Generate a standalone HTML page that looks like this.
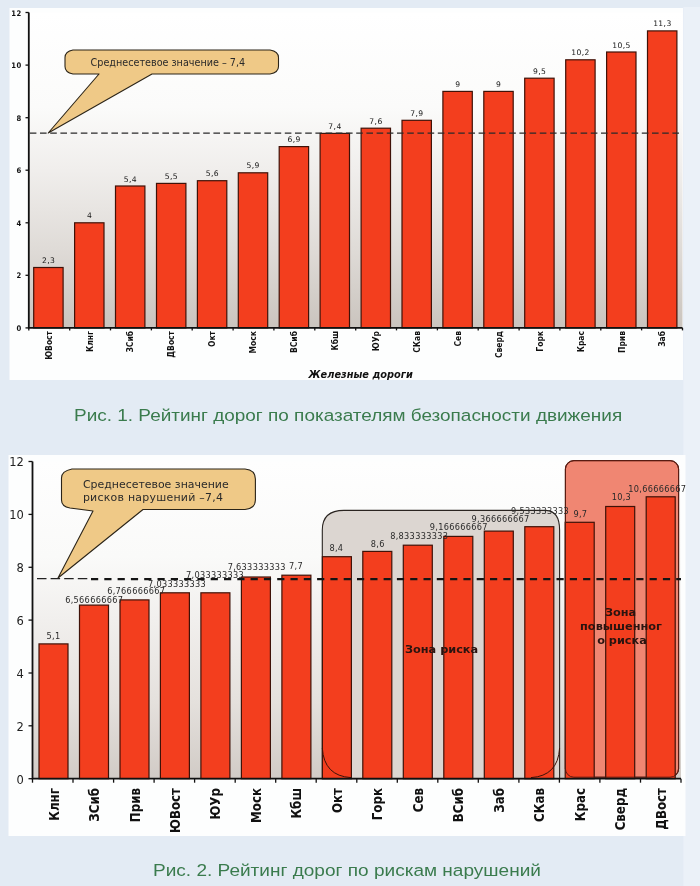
<!DOCTYPE html>
<html lang="ru"><head><meta charset="utf-8"><title>Рейтинг дорог</title>
<style>
html,body{margin:0;padding:0;}
body{width:700px;height:886px;overflow:hidden;background:#e3ebf4;position:relative;font-family:'Liberation Sans', sans-serif;}
svg{position:absolute;left:0;top:0;display:block;}
.cap{position:absolute;white-space:nowrap;color:#3a7b4d;font-family:'Liberation Sans', sans-serif;line-height:1;}
</style></head><body>
<svg width="700" height="886" viewBox="0 0 700 886">
<defs>
<linearGradient id="g1" x1="0" y1="0" x2="0" y2="1"><stop offset="0" stop-color="#ffffff"/><stop offset="0.3" stop-color="#fbfbfa"/><stop offset="0.5" stop-color="#f0eeec"/><stop offset="0.75" stop-color="#dfdbd7"/><stop offset="1" stop-color="#cac4be"/></linearGradient>
<linearGradient id="g2" x1="0" y1="0" x2="0" y2="1"><stop offset="0" stop-color="#fefefe"/><stop offset="0.3" stop-color="#fafaf9"/><stop offset="0.5" stop-color="#f1efed"/><stop offset="0.75" stop-color="#e5e1dd"/><stop offset="1" stop-color="#d1cbc6"/></linearGradient>
</defs>
<rect x="683.4" y="7" width="16.6" height="879" fill="#ebf1f8"/>
<rect x="9.5" y="8" width="673.5" height="372" fill="#fdfefe"/>
<rect x="28.8" y="12.54" width="653.7" height="315.36" fill="url(#g1)"/>
<g fill="#f33e1e" stroke="#3f1208" stroke-width="1.2">
<rect x="33.7" y="267.5" width="29.4" height="60.4"/>
<rect x="74.6" y="222.8" width="29.4" height="105.1"/>
<rect x="115.5" y="186.0" width="29.4" height="141.9"/>
<rect x="156.5" y="183.4" width="29.4" height="144.5"/>
<rect x="197.4" y="180.7" width="29.4" height="147.2"/>
<rect x="238.3" y="172.8" width="29.4" height="155.1"/>
<rect x="279.2" y="146.6" width="29.4" height="181.3"/>
<rect x="320.1" y="133.4" width="29.4" height="194.5"/>
<rect x="361.1" y="128.2" width="29.4" height="199.7"/>
<rect x="402.0" y="120.3" width="29.4" height="207.6"/>
<rect x="442.9" y="91.4" width="29.4" height="236.5"/>
<rect x="483.8" y="91.4" width="29.4" height="236.5"/>
<rect x="524.7" y="78.2" width="29.4" height="249.7"/>
<rect x="565.7" y="59.8" width="29.4" height="268.1"/>
<rect x="606.6" y="52.0" width="29.4" height="275.9"/>
<rect x="647.5" y="30.9" width="29.4" height="297.0"/>
</g>
<path d="M28.8 12.54 V327.9 H682.5" stroke="#111" stroke-width="1.8" fill="none"/>
<g stroke="#111" stroke-width="1.3">
<line x1="25.5" y1="327.9" x2="28.8" y2="327.9"/>
<line x1="25.5" y1="275.3" x2="28.8" y2="275.3"/>
<line x1="25.5" y1="222.8" x2="28.8" y2="222.8"/>
<line x1="25.5" y1="170.2" x2="28.8" y2="170.2"/>
<line x1="25.5" y1="117.7" x2="28.8" y2="117.7"/>
<line x1="25.5" y1="65.1" x2="28.8" y2="65.1"/>
<line x1="25.5" y1="12.5" x2="28.8" y2="12.5"/>
<line x1="28.8" y1="327.9" x2="28.8" y2="330.4"/>
<line x1="69.7" y1="327.9" x2="69.7" y2="330.4"/>
<line x1="110.5" y1="327.9" x2="110.5" y2="330.4"/>
<line x1="151.4" y1="327.9" x2="151.4" y2="330.4"/>
<line x1="192.2" y1="327.9" x2="192.2" y2="330.4"/>
<line x1="233.1" y1="327.9" x2="233.1" y2="330.4"/>
<line x1="273.9" y1="327.9" x2="273.9" y2="330.4"/>
<line x1="314.8" y1="327.9" x2="314.8" y2="330.4"/>
<line x1="355.7" y1="327.9" x2="355.7" y2="330.4"/>
<line x1="396.5" y1="327.9" x2="396.5" y2="330.4"/>
<line x1="437.4" y1="327.9" x2="437.4" y2="330.4"/>
<line x1="478.2" y1="327.9" x2="478.2" y2="330.4"/>
<line x1="519.1" y1="327.9" x2="519.1" y2="330.4"/>
<line x1="559.9" y1="327.9" x2="559.9" y2="330.4"/>
<line x1="600.8" y1="327.9" x2="600.8" y2="330.4"/>
<line x1="641.6" y1="327.9" x2="641.6" y2="330.4"/>
<line x1="682.5" y1="327.9" x2="682.5" y2="330.4"/>
</g>
<line x1="29.8" y1="133.2" x2="682.5" y2="133.2" stroke="#2a2a2a" stroke-width="1.3" stroke-dasharray="6.6 3.6"/>
<path d="M73 50 H270 Q278.5 51.5 278.5 57.5 V66.5 Q278.5 72.5 270 74 H152 L48.2 133 L99 74 H73 Q65 72.5 65 66.5 V57.5 Q65 51.5 73 50 Z" fill="#efc987" stroke="#2b2418" stroke-width="1.1" stroke-linejoin="round"/>
<text id="c1t" x="90.6" y="65.6" font-family="'DejaVu Sans', 'Liberation Sans', sans-serif" font-size="9.65" fill="#2a2a2a">Среднесетевое значение – 7,4</text>
<g font-family="'DejaVu Sans Condensed', 'DejaVu Sans', 'Liberation Sans', sans-serif" font-size="7.6" font-weight="bold" fill="#111" text-anchor="end" letter-spacing="0.5">
<text x="21.8" y="330.9">0</text>
<text x="21.8" y="278.3">2</text>
<text x="21.8" y="225.8">4</text>
<text x="21.8" y="173.2">6</text>
<text x="21.8" y="120.7">8</text>
<text x="21.8" y="68.1">10</text>
<text x="21.8" y="15.5">12</text>
</g>
<g font-family="'DejaVu Sans', 'Liberation Sans', sans-serif" font-size="7.6" fill="#161616" text-anchor="middle" letter-spacing="0.4">
<text x="48.6" y="263.0">2,3</text>
<text x="89.5" y="218.3">4</text>
<text x="130.4" y="181.5">5,4</text>
<text x="171.4" y="178.9">5,5</text>
<text x="212.3" y="176.2">5,6</text>
<text x="253.2" y="168.3">5,9</text>
<text x="294.1" y="142.1">6,9</text>
<text x="335.0" y="128.9">7,4</text>
<text x="376.0" y="123.7">7,6</text>
<text x="416.9" y="115.8">7,9</text>
<text x="457.8" y="86.9">9</text>
<text x="498.7" y="86.9">9</text>
<text x="539.6" y="73.7">9,5</text>
<text x="580.6" y="55.3">10,2</text>
<text x="621.5" y="47.5">10,5</text>
<text x="662.4" y="26.4">11,3</text>
</g>
<g id="xl1" font-family="'DejaVu Sans', 'Liberation Sans', sans-serif" font-size="7.6" font-weight="bold" fill="#111" text-anchor="end" letter-spacing="0">
<text transform="translate(51.6 331) rotate(-90) scale(1 1.25)">ЮВост</text>
<text transform="translate(92.5 331) rotate(-90) scale(1 1.25)">Клнг</text>
<text transform="translate(133.4 331) rotate(-90) scale(1 1.25)">ЗСиб</text>
<text transform="translate(174.4 331) rotate(-90) scale(1 1.25)">ДВост</text>
<text transform="translate(215.3 331) rotate(-90) scale(1 1.25)">Окт</text>
<text transform="translate(256.2 331) rotate(-90) scale(1 1.25)">Моск</text>
<text transform="translate(297.1 331) rotate(-90) scale(1 1.25)">ВСиб</text>
<text transform="translate(338.0 331) rotate(-90) scale(1 1.25)">Кбш</text>
<text transform="translate(379.0 331) rotate(-90) scale(1 1.25)">ЮУр</text>
<text transform="translate(419.9 331) rotate(-90) scale(1 1.25)">СКав</text>
<text transform="translate(460.8 331) rotate(-90) scale(1 1.25)">Сев</text>
<text transform="translate(501.7 331) rotate(-90) scale(1 1.25)">Сверд</text>
<text transform="translate(542.6 331) rotate(-90) scale(1 1.25)">Горк</text>
<text transform="translate(583.6 331) rotate(-90) scale(1 1.25)">Крас</text>
<text transform="translate(624.5 331) rotate(-90) scale(1 1.25)">Прив</text>
<text transform="translate(665.4 331) rotate(-90) scale(1 1.25)">Заб</text>
</g>
<text id="zd" x="308.6" y="378.4" font-family="'DejaVu Sans', 'Liberation Sans', sans-serif" font-size="9.8" font-weight="bold" font-style="italic" fill="#111">Железные дороги</text>
<rect x="8.5" y="455" width="677" height="381" fill="#fdfefe"/>
<rect x="32.5" y="461.54" width="648.5" height="317.16" fill="url(#g2)"/>
<path d="M322.3 778.7 V530 Q322.3 510.4 344 510.4 H546 Q559.6 511 559.6 530 V778.7 Z" fill="#dcd6d1" stroke="#2a2420" stroke-width="1.1"/>
<rect x="565.4" y="460.6" width="113.2" height="316.6" rx="8.5" ry="8.5" fill="#f08672" stroke="#5a1c12" stroke-width="1.1"/>
<g fill="#f33e1e" stroke="#3f1208" stroke-width="1.2">
<rect x="39.0" y="643.9" width="29.0" height="134.8"/>
<rect x="79.5" y="605.1" width="29.0" height="173.6"/>
<rect x="120.0" y="599.9" width="29.0" height="178.8"/>
<rect x="160.4" y="592.8" width="29.0" height="185.9"/>
<rect x="200.9" y="592.8" width="29.0" height="185.9"/>
<rect x="241.4" y="577.0" width="29.0" height="201.7"/>
<rect x="281.9" y="575.2" width="29.0" height="203.5"/>
<rect x="322.4" y="556.7" width="29.0" height="222.0"/>
<rect x="362.8" y="551.4" width="29.0" height="227.3"/>
<rect x="403.3" y="545.2" width="29.0" height="233.5"/>
<rect x="443.8" y="536.4" width="29.0" height="242.3"/>
<rect x="484.3" y="531.1" width="29.0" height="247.6"/>
<rect x="524.8" y="526.7" width="29.0" height="252.0"/>
<rect x="565.2" y="522.3" width="29.0" height="256.4"/>
<rect x="605.7" y="506.5" width="29.0" height="272.2"/>
<rect x="646.2" y="496.8" width="29.0" height="281.9"/>
</g>
<path d="M322.3 748 Q324 776 351 777.6" fill="none" stroke="#3a1208" stroke-width="1"/>
<path d="M559.6 748 Q558 776 531 777.6" fill="none" stroke="#3a1208" stroke-width="1"/>
<rect x="565.4" y="460.6" width="113.2" height="316.6" rx="8.5" ry="8.5" fill="none" stroke="#5a1c12" stroke-width="1"/>
<path d="M32.5 461.54 V778.7 H681" stroke="#111" stroke-width="1.8" fill="none"/>
<g stroke="#111" stroke-width="1.3">
<line x1="28.5" y1="778.7" x2="32.5" y2="778.7"/>
<line x1="28.5" y1="725.8" x2="32.5" y2="725.8"/>
<line x1="28.5" y1="673.0" x2="32.5" y2="673.0"/>
<line x1="28.5" y1="620.1" x2="32.5" y2="620.1"/>
<line x1="28.5" y1="567.3" x2="32.5" y2="567.3"/>
<line x1="28.5" y1="514.4" x2="32.5" y2="514.4"/>
<line x1="28.5" y1="461.5" x2="32.5" y2="461.5"/>
<line x1="32.5" y1="778.7" x2="32.5" y2="782.7"/>
<line x1="73.0" y1="778.7" x2="73.0" y2="782.7"/>
<line x1="113.6" y1="778.7" x2="113.6" y2="782.7"/>
<line x1="154.1" y1="778.7" x2="154.1" y2="782.7"/>
<line x1="194.6" y1="778.7" x2="194.6" y2="782.7"/>
<line x1="235.2" y1="778.7" x2="235.2" y2="782.7"/>
<line x1="275.7" y1="778.7" x2="275.7" y2="782.7"/>
<line x1="316.2" y1="778.7" x2="316.2" y2="782.7"/>
<line x1="356.8" y1="778.7" x2="356.8" y2="782.7"/>
<line x1="397.3" y1="778.7" x2="397.3" y2="782.7"/>
<line x1="437.8" y1="778.7" x2="437.8" y2="782.7"/>
<line x1="478.3" y1="778.7" x2="478.3" y2="782.7"/>
<line x1="518.9" y1="778.7" x2="518.9" y2="782.7"/>
<line x1="559.4" y1="778.7" x2="559.4" y2="782.7"/>
<line x1="599.9" y1="778.7" x2="599.9" y2="782.7"/>
<line x1="640.5" y1="778.7" x2="640.5" y2="782.7"/>
<line x1="681.0" y1="778.7" x2="681.0" y2="782.7"/>
</g>
<line x1="37" y1="578.6" x2="91" y2="578.6" stroke="#222" stroke-width="1.3" stroke-dasharray="9.5 4.1"/>
<line x1="91" y1="579.1" x2="681" y2="579.1" stroke="#141414" stroke-width="2.4" stroke-dasharray="7.2 6.1"/>
<path d="M72 469 H245 Q255.4 470 255.4 479 V500 Q255.4 508.5 245 509.5 H143 L58 578 L93 511 L70 508 Q61.5 506.5 61.5 500 V478 Q61.5 471 72 469 Z" fill="#efc987" stroke="#2b2418" stroke-width="1.1" stroke-linejoin="round"/>
<g font-family="'DejaVu Sans', 'Liberation Sans', sans-serif" font-size="10.95" fill="#2a2a2a">
<text id="c2a" x="82.9" y="487.6">Среднесетевое значение</text>
<text id="c2b" x="82.9" y="500.6" letter-spacing="0.25">рисков нарушений –7,4</text>
</g>
<g font-family="'DejaVu Sans', 'Liberation Sans', sans-serif" font-size="11.5" fill="#222" text-anchor="end">
<text x="23.9" y="783.5">0</text>
<text x="23.9" y="730.6">2</text>
<text x="23.9" y="677.8">4</text>
<text x="23.9" y="624.9">6</text>
<text x="23.9" y="572.1">8</text>
<text x="23.9" y="519.2">10</text>
<text x="23.9" y="466.3">12</text>
</g>
<g id="bl2" font-family="'DejaVu Sans', 'Liberation Sans', sans-serif" font-size="8.2" fill="#2a2a2a" text-anchor="middle" letter-spacing="0.3">
<text x="53.5" y="638.9">5,1</text>
<text x="94.2" y="603.0">6,566666667</text>
<text x="136.2" y="594.0">6,766666667</text>
<text x="177.0" y="587.0">7,033333333</text>
<text x="215.0" y="578.2">7,033333333</text>
<text x="256.7" y="569.7">7,633333333</text>
<text x="296.0" y="569.2">7,7</text>
<text x="336.4" y="551.0">8,4</text>
<text x="377.7" y="546.7">8,6</text>
<text x="419.2" y="539.0">8,833333333</text>
<text x="458.8" y="529.6">9,166666667</text>
<text x="500.6" y="522.0">9,366666667</text>
<text x="540.0" y="514.4">9,533333333</text>
<text x="580.4" y="517.0">9,7</text>
<text x="621.4" y="500.4">10,3</text>
<text x="657.3" y="491.6">10,66666667</text>
</g>
<g id="xl2" font-family="'DejaVu Sans Condensed', 'DejaVu Sans', 'Liberation Sans', sans-serif" font-size="13.2" font-weight="bold" fill="#111" text-anchor="end">
<text transform="translate(58.5 788) rotate(-90)">Клнг</text>
<text transform="translate(99.0 788) rotate(-90)">ЗСиб</text>
<text transform="translate(139.5 788) rotate(-90)">Прив</text>
<text transform="translate(179.9 788) rotate(-90)">ЮВост</text>
<text transform="translate(220.4 788) rotate(-90)">ЮУр</text>
<text transform="translate(260.9 788) rotate(-90)">Моск</text>
<text transform="translate(301.4 788) rotate(-90)">Кбш</text>
<text transform="translate(341.9 788) rotate(-90)">Окт</text>
<text transform="translate(382.3 788) rotate(-90)">Горк</text>
<text transform="translate(422.8 788) rotate(-90)">Сев</text>
<text transform="translate(463.3 788) rotate(-90)">ВСиб</text>
<text transform="translate(503.8 788) rotate(-90)">Заб</text>
<text transform="translate(544.3 788) rotate(-90)">СКав</text>
<text transform="translate(584.7 788) rotate(-90)">Крас</text>
<text transform="translate(625.2 788) rotate(-90)">Сверд</text>
<text transform="translate(665.7 788) rotate(-90)">ДВост</text>
</g>
<g font-family="'DejaVu Sans', 'Liberation Sans', sans-serif" font-size="11.3" font-weight="bold" fill="#2a1410">
<text id="z1" x="405" y="653">Зона риска</text>
<text x="620.5" y="616.2" text-anchor="middle">Зона</text>
<text id="z2" x="621" y="629.9" text-anchor="middle">повышенног</text>
<text x="622" y="643.6" text-anchor="middle">о риска</text>
</g>
</svg>
<div class="cap" id="cap1" style="left:74px;top:406.5px;font-size:17.4px;transform:scaleX(1.09);transform-origin:0 0;">Рис. 1. Рейтинг дорог по показателям безопасности движения</div>
<div class="cap" id="cap2" style="left:153.4px;top:862.2px;font-size:17.4px;transform:scaleX(1.094);transform-origin:0 0;">Рис. 2. Рейтинг дорог по рискам нарушений</div>
</body></html>
